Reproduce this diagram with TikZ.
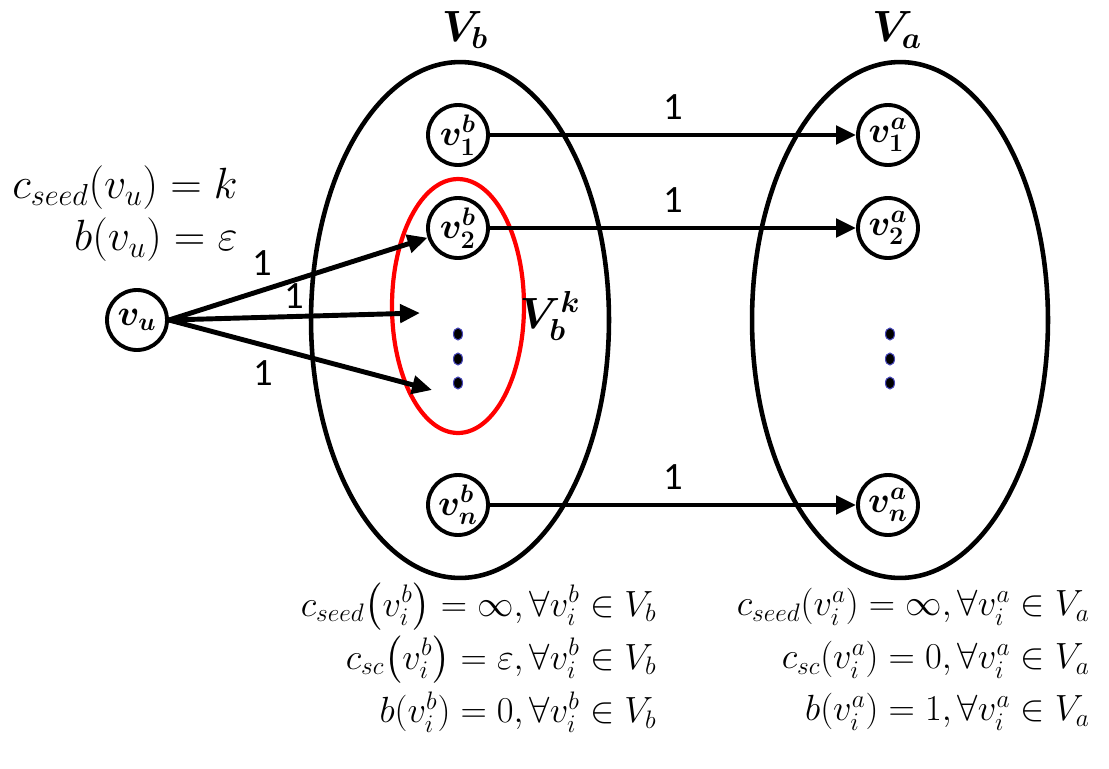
\documentclass[tikz,border=0pt]{standalone}
\usepackage{amsmath,amssymb}
\usepackage{bm}
\usepackage{fontspec}
\newfontfamily\lblfont{Carlito}
\usetikzlibrary{arrows.meta,positioning,shapes.geometric}

\begin{document}
\begin{tikzpicture}[
    x=0.02cm, y=-0.02cm,
    vertex/.style={circle, draw, line width=2.2pt, minimum size=1.2cm, inner sep=-2pt, font=\fontsize{22}{24}\selectfont},
    set/.style={ellipse, draw, line width=2.6pt, inner sep=0pt},
    arrow/.style={-{Triangle[length=4mm,width=3.6mm]}, line width=2.8pt},
    wt/.style={font=\lblfont\fontsize{22}{26}\selectfont},
    eq/.style={font=\fontsize{22.5}{26}\selectfont, anchor=east, inner sep=0pt},
    dot/.style={fill=black, draw=blue!45!gray, line width=0.6pt}
]
\useasboundingbox (0,0) rectangle (1109,768);

% the two sets
\node[set, minimum width=5.96cm, minimum height=10.32cm] (Vb) at (460,320) {};
\node[set, minimum width=5.92cm, minimum height=10.32cm] (Va) at (900,320) {};
\node[font=\fontsize{23}{26}\selectfont] (Vblabel) at (465,30) {$\bm{V_b}$};
\node[font=\fontsize{23}{26}\selectfont] (Valabel) at (897,30) {$\bm{V_a}$};

% subset V_b^k
\node[ellipse, draw=red, line width=2.4pt, minimum width=2.64cm, minimum height=5.08cm] (Vbk) at (458,306) {};
\node[font=\fontsize{23}{26}\selectfont] (Vbklabel) at (550,316) {$\bm{V_b^k}$};

% vertices
\node[vertex] (vu) at (137,320) {$\bm{v_u}$};
\node[vertex] (v1b) at (458,135) {$\bm{v_1^b}$};
\node[vertex] (v2b) at (458,228) {$\bm{v_2^b}$};
\node[vertex] (vnb) at (458,505) {$\bm{v_n^b}$};
\node[vertex] (v1a) at (888,135) {$\bm{v_1^a}$};
\node[vertex] (v2a) at (888,228) {$\bm{v_2^a}$};
\node[vertex] (vna) at (888,505) {$\bm{v_n^a}$};

% vertical dots
\foreach \y in {334,359,383} {
  \fill[dot] (458,\y) ellipse (0.09cm and 0.12cm);
  \fill[dot] (890,\y) ellipse (0.09cm and 0.12cm);
}

% arrows from v_u
\coordinate (t2) at (420,313);
\coordinate (t3) at (432,390);
\draw[arrow] (vu.east) -- (v2b) node[wt, pos=0.36, above=4pt] {1};
\draw[arrow] (vu.east) -- (t2) node[wt, pos=0.5, above=0pt] {1};
\draw[arrow] (vu.east) -- (t3) node[wt, pos=0.36, below=4pt] {1};

% arrows from V_b to V_a
\draw[arrow] (v1b) -- (v1a) node[wt, midway, above=4pt] {1};
\draw[arrow] (v2b) -- (v2a) node[wt, midway, above=4pt] {1};
\draw[arrow] (vnb) -- (vna) node[wt, midway, above=4pt] {1};

% costs
\node[eq, font=\fontsize{23.5}{26}\selectfont] (cu) at (238,188) {$c_{seed}(v_u)=k$};
\node[eq, font=\fontsize{23.5}{26}\selectfont] (bu) at (238,240) {$b(v_u)=\varepsilon$};
\node[eq] (cb1) at (657,607) {$c_{seed}\big(v_i^b\big)=\infty,\forall v_i^b\in V_b$};
\node[eq] (cb2) at (657,660) {$c_{sc}\big(v_i^b\big)=\varepsilon,\forall v_i^b\in V_b$};
\node[eq] (cb3) at (657,712) {$b(v_i^b)=0,\forall v_i^b\in V_b$};
\node[eq] (ca1) at (1090,607) {$c_{seed}(v_i^a)=\infty,\forall v_i^a\in V_a$};
\node[eq] (ca2) at (1090,660) {$c_{sc}(v_i^a)=0,\forall v_i^a\in V_a$};
\node[eq] (ca3) at (1090,712) {$b(v_i^a)=1,\forall v_i^a\in V_a$};

\end{tikzpicture}
\end{document}
